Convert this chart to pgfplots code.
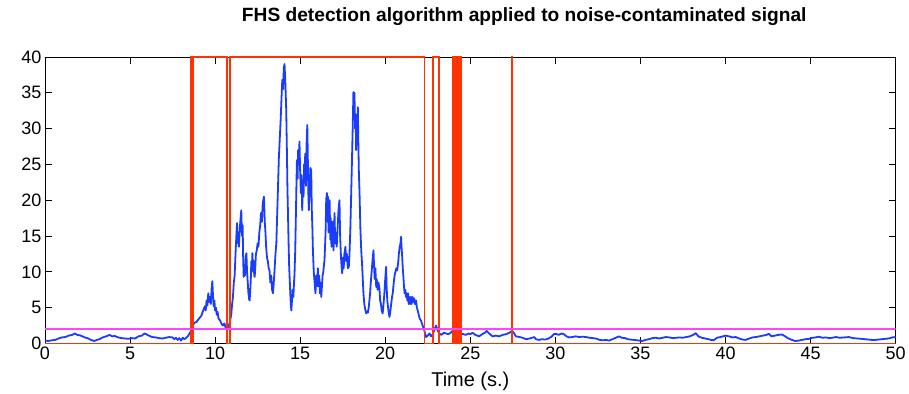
\documentclass[border=0pt]{standalone}
\usepackage{fontspec}
\setmainfont{Liberation Sans}
\usepackage{pgfplots}
\pgfplotsset{compat=1.18}
\definecolor{sigblue}{HTML}{1A3CFF}
\definecolor{detred}{HTML}{FF3300}
\definecolor{thrmag}{HTML}{FF44FF}
\begin{document}
\begin{tikzpicture}
\begin{axis}[
  scale only axis,
  width=852pt, height=287pt,
  xmin=0, xmax=50, ymin=0, ymax=40,
  xtick={0,5,...,50}, ytick={0,5,...,40},
  tick align=inside,
  major tick length=7pt,
  tick style={black, line width=0.8pt},
  axis line style={black, line width=0.8pt},
  /pgf/number format/assume math mode=true,
  tick label style={font=\fontsize{18}{20}\selectfont},
  title={\bfseries FHS detection algorithm applied to noise-contaminated signal},
  title style={font=\fontsize{19.2}{22}\selectfont, at={(0.5,1)}, anchor=base, yshift=29pt, xshift=54pt},
  xlabel={Time (s.)},
  xlabel style={font=\fontsize{20}{22}\selectfont, at={(0.5,0)}, anchor=base, yshift=-43pt},
  clip=true,
]
\addplot[draw=sigblue, line width=1.8pt, line join=round] coordinates {
(0,0.4) (0.2,0.35) (0.4,0.45) (0.6,0.5) (0.8,0.7) (1.0,0.85) (1.2,0.9) (1.4,1.1) (1.6,1.2) (1.75,1.4) (1.9,1.2) (2.05,1.15) (2.2,1.0) (2.4,0.8) (2.55,0.7) (2.7,0.5) (2.9,0.35) (3.05,0.5) (3.2,0.6) (3.4,0.85) (3.6,1.0) (3.8,1.2) (3.95,1.0) (4.1,1.05) (4.3,0.85) (4.5,0.75) (4.7,0.7) (4.9,0.65) (5.1,0.75) (5.3,0.7) (5.5,1.0) (5.7,1.1) (5.85,1.4) (5.95,1.3) (6.1,1.1) (6.3,0.9) (6.5,0.85) (6.7,0.75) (6.9,0.7) (7.1,0.8) (7.3,0.9) (7.5,0.85) (7.6,0.6) (7.7,0.8) (7.8,0.5) (7.9,0.75) (8.0,0.4) (8.1,0.8) (8.2,0.6) (8.3,0.8) (8.4,1.0) (8.5,1.4) (8.6,1.8) (8.7,2.6) (8.8,2.9)
(8.9,3.0) (9.0,3.3) (9.1,3.6) (9.2,3.9) (9.3,4.6) (9.4,5.2) (9.45,4.6) (9.5,6.0) (9.55,5.3) (9.6,7.0) (9.65,5.8) (9.7,6.5) (9.75,5.5) (9.8,7.8) (9.84,8.7) (9.88,6.5) (9.92,5.2) (9.96,6.0) (10.0,4.6) (10.05,5.0) (10.1,4.0) (10.15,4.4) (10.2,3.5) (10.3,3.2) (10.37,2.8) (10.45,2.5) (10.55,2.8) (10.62,2.2) (10.7,2.0) (10.78,2.4) (10.85,2.8) (10.95,4.0) (11.0,5.5) (11.05,6.5) (11.1,8.5) (11.15,9.5) (11.2,12.5) (11.25,15.0) (11.29,16.8) (11.33,14.0) (11.37,15.5) (11.4,13.5) (11.45,16.0) (11.5,17.5) (11.54,18.6) (11.58,15.0) (11.62,16.5) (11.65,12.0) (11.68,9.3) (11.72,11.0) (11.76,9.5) (11.8,12.0) (11.84,12.6) (11.88,10.0) (11.92,8.5) (11.96,7.0) (12.0,6.2) (12.03,6.0) (12.07,7.5) (12.1,9.0) (12.13,11.5) (12.16,10.0) (12.19,12.6) (12.23,10.5) (12.27,11.5) (12.3,9.5) (12.33,9.3) (12.37,11.0) (12.4,12.5) (12.45,13.0) (12.5,14.0) (12.55,13.5) (12.6,15.5) (12.65,16.5) (12.7,18.2) (12.75,17.0) (12.8,19.5) (12.87,20.5) (12.92,17.0) (12.96,15.5) (13.0,13.5) (13.05,12.0) (13.1,11.5) (13.15,10.5) (13.2,10.2) (13.25,8.5) (13.3,9.5) (13.35,7.5) (13.4,7.0) (13.45,8.5) (13.5,10.5) (13.55,12.5) (13.6,14.0) (13.65,18.0) (13.7,22.0) (13.75,26.0) (13.8,28.5) (13.85,31.0) (13.9,34.0) (13.95,36.8) (14.0,35.5) (14.04,38.5) (14.08,39.0) (14.12,37.0) (14.15,35.0) (14.18,32.6) (14.22,27.0) (14.25,22.0) (14.28,18.6) (14.32,14.0) (14.35,11.0) (14.38,9.3) (14.42,7.0) (14.45,5.5) (14.48,4.6) (14.52,6.0) (14.56,7.5) (14.6,6.5) (14.64,8.5) (14.67,9.8) (14.71,13.0) (14.75,18.0) (14.78,22.0) (14.81,25.6) (14.85,23.0) (14.88,27.0) (14.92,25.0) (14.96,28.2) (15.0,24.0) (15.04,21.0) (15.08,23.5) (15.12,18.6) (15.16,22.5) (15.2,20.5) (15.23,25.0) (15.26,24.2) (15.3,26.5) (15.34,22.0) (15.38,28.0) (15.42,30.5) (15.45,26.0) (15.48,21.0) (15.51,18.6) (15.55,21.0) (15.6,24.5) (15.65,24.2) (15.68,19.0) (15.72,16.0) (15.75,13.0) (15.8,10.0) (15.85,8.5) (15.9,7.0) (15.95,9.5) (16.0,8.0) (16.04,10.5) (16.08,8.0) (16.12,9.5) (16.16,7.0) (16.2,8.5) (16.24,6.5) (16.28,8.0) (16.32,9.5) (16.36,10.0) (16.4,11.0) (16.43,11.6) (16.47,14.0) (16.5,16.0) (16.53,20.0) (16.57,21.0) (16.6,17.0) (16.63,20.5) (16.67,15.5) (16.7,19.0) (16.73,20.0) (16.77,14.5) (16.8,17.5) (16.84,13.5) (16.88,14.0) (16.92,17.0) (16.96,13.0) (17.0,16.0) (17.02,18.2) (17.06,14.0) (17.1,15.5) (17.15,13.5) (17.2,16.0) (17.25,18.5) (17.31,20.0) (17.35,15.0) (17.4,12.0) (17.44,10.5) (17.47,9.8) (17.52,12.0) (17.56,10.5) (17.6,12.5) (17.66,13.5) (17.7,11.5) (17.75,12.5) (17.8,10.5) (17.86,10.7) (17.9,12.5) (17.95,16.0) (18.0,21.0) (18.04,25.0) (18.09,30.3) (18.13,35.1) (18.16,33.0) (18.19,35.0) (18.23,30.0) (18.26,32.0) (18.29,27.0) (18.33,30.0) (18.36,28.0) (18.39,33.0) (18.42,28.0) (18.45,24.0) (18.49,21.0) (18.54,16.0) (18.59,13.0) (18.64,11.0) (18.68,9.0) (18.72,7.0) (18.77,5.5) (18.82,4.8) (18.88,4.2) (18.93,4.5) (18.98,4.3) (19.03,5.0) (19.07,6.0) (19.11,7.0) (19.15,8.5) (19.2,10.0) (19.25,11.5) (19.31,13.0) (19.34,11.0) (19.38,9.0) (19.42,10.5) (19.47,7.9) (19.5,9.0) (19.55,7.5) (19.6,8.5) (19.66,7.7) (19.7,6.0) (19.75,5.5) (19.8,4.5) (19.85,4.2) (19.9,5.5) (19.95,7.0) (20.0,9.0) (20.05,10.7) (20.08,8.0) (20.12,6.0) (20.17,5.0) (20.21,4.2) (20.25,3.7) (20.3,4.5) (20.35,5.5) (20.4,6.5) (20.44,7.0) (20.5,8.5) (20.55,9.5) (20.6,10.0) (20.65,10.5) (20.7,10.2) (20.73,10.7) (20.77,11.5) (20.8,12.5) (20.85,13.5) (20.9,14.0) (20.93,14.9) (20.97,13.0) (21.0,12.0) (21.03,10.5) (21.07,9.3) (21.1,8.0) (21.14,7.0) (21.18,7.5) (21.22,6.5) (21.26,7.0) (21.3,6.0) (21.34,7.0) (21.38,5.5) (21.42,6.5) (21.46,5.5) (21.5,6.5) (21.55,5.5) (21.6,6.5) (21.65,5.8) (21.7,6.3) (21.75,5.5) (21.81,6.0) (21.86,5.0) (21.92,4.5) (21.97,4.0) (22.02,3.5) (22.1,3.2) (22.2,2.5) (22.3,1.8) (22.4,0.9) (22.5,1.1) (22.6,1.4) (22.7,1.0) (22.8,1.3) (22.9,2.0) (22.99,2.5) (23.08,1.8) (23.18,1.4) (23.3,1.2) (23.45,1.5) (23.57,1.4) (23.7,1.3) (23.85,1.5) (23.96,1.8) (24.06,2.2) (24.16,2.5) (24.3,1.8) (24.45,1.4) (24.6,1.3) (24.74,1.2) (24.9,1.4) (25.0,1.3) (25.13,1.5) (25.3,1.2) (25.52,1.0) (25.7,1.3) (25.85,1.5) (25.96,1.75) (26.1,1.4) (26.31,1.0) (26.5,1.1) (26.7,1.0) (26.9,1.2) (27.1,1.3) (27.3,1.5) (27.45,1.75) (27.55,1.5) (27.68,1.0) (27.9,0.9) (28.07,0.8) (28.27,0.6) (28.5,0.7) (28.76,0.9) (28.85,0.6) (29.05,0.5) (29.2,0.6) (29.4,0.55) (29.6,0.7) (29.8,1.0) (29.9,1.3) (30.03,1.35) (30.2,1.2) (30.35,1.4) (30.5,1.3) (30.65,1.0) (30.8,0.85) (31.0,0.9) (31.2,1.0) (31.4,0.9) (31.6,0.95) (31.8,0.9) (32.0,0.8) (32.2,0.75) (32.38,0.7) (32.6,0.5) (32.8,0.45) (33.0,0.5) (33.16,0.4) (33.35,0.6) (33.55,0.8) (33.74,1.0) (33.9,0.8) (34.1,0.75) (34.25,0.6) (34.42,0.55) (34.6,0.5) (34.8,0.45) (35.1,0.35) (35.3,0.5) (35.5,0.6) (35.7,0.75) (35.9,0.8) (36.1,0.7) (36.3,0.8) (36.5,0.9) (36.68,0.85) (36.9,0.75) (37.1,0.8) (37.3,0.85) (37.46,0.8) (37.7,0.9) (37.9,1.0) (38.1,1.2) (38.25,1.45) (38.4,1.0) (38.6,0.8) (38.8,0.7) (39.0,0.6) (39.15,0.5) (39.3,0.45) (39.5,0.8) (39.7,0.9) (40.0,1.1) (40.2,1.0) (40.4,0.85) (40.6,0.9) (40.8,0.7) (41.0,0.55) (41.18,0.5) (41.4,0.7) (41.6,0.85) (41.77,0.9) (42.0,1.0) (42.2,1.1) (42.4,1.2) (42.55,1.35) (42.7,1.0) (42.9,1.1) (43.1,1.2) (43.33,1.25) (43.5,1.0) (43.7,0.7) (43.9,0.5) (44.1,0.35) (44.3,0.4) (44.5,0.5) (44.7,0.6) (44.9,0.65) (45.1,0.8) (45.3,0.85) (45.48,0.95) (45.7,0.8) (45.9,0.85) (46.1,0.75) (46.26,0.8) (46.5,0.9) (46.7,0.8) (47.0,0.85) (47.24,0.9) (47.5,0.75) (47.75,0.7) (48.0,0.65) (48.2,0.6) (48.4,0.55) (48.6,0.5) (48.8,0.5) (49.0,0.55) (49.2,0.6) (49.4,0.65) (49.6,0.7) (49.8,0.85) (50.0,0.9)
};
\addplot[draw=detred, line width=1.7pt] coordinates {
(0,0) (8.56,0) (8.56,40) (8.60,40) (8.60,0) (8.63,0) (8.63,40) (8.68,40) (8.68,0) (8.70,0) (8.70,40)
(10.72,40) (10.72,0) (10.86,0) (10.86,40)
(22.30,40) (22.30,0) (22.80,0) (22.80,40) (23.14,40) (23.14,0)
(24.00,0) (24.00,40) (24.04,40) (24.04,0) (24.08,0) (24.08,40) (24.16,40) (24.16,0) (24.20,0) (24.20,40) (24.30,40) (24.30,0) (24.34,0) (24.34,40) (24.45,40) (24.45,0)
(27.46,0) (27.46,40) (27.48,40) (27.48,0) (50,0)
};
\addplot[draw=thrmag, line width=1.4pt] coordinates {(0,2) (50,2)};
\end{axis}
\path (-45pt,-50pt) rectangle (864pt,344pt);
\end{tikzpicture}
\end{document}
